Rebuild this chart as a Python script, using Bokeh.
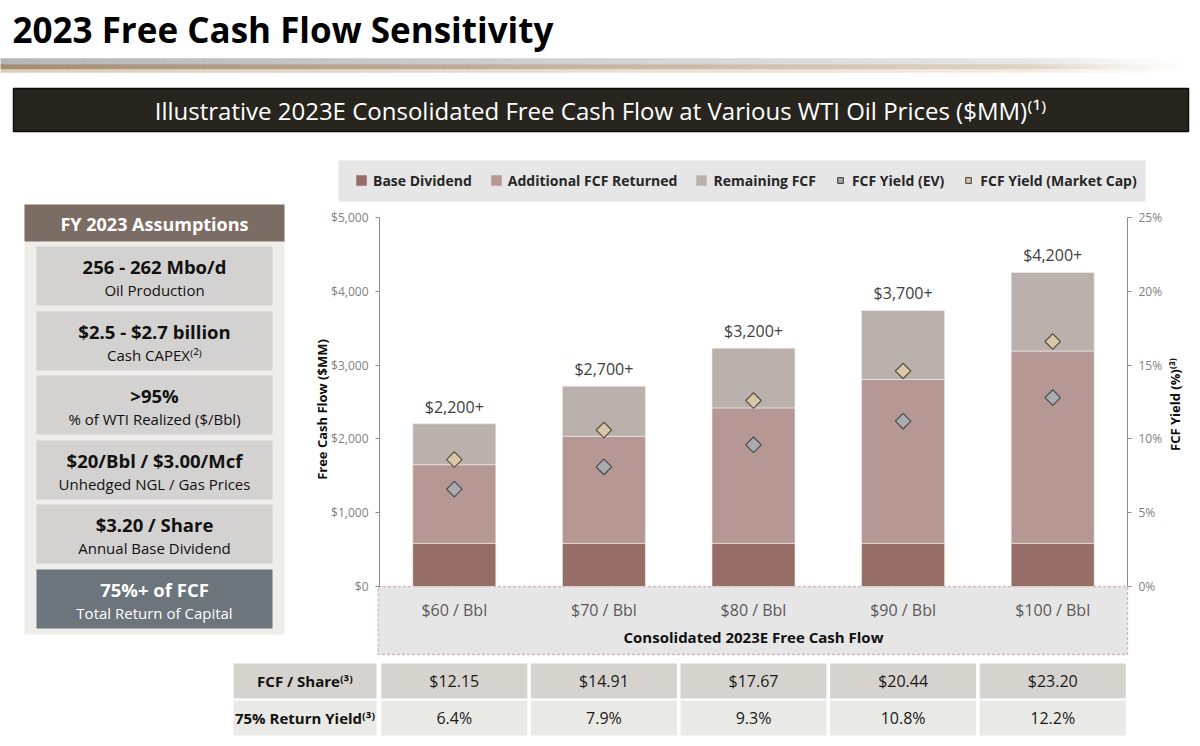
import math
import numpy as np
from bokeh.plotting import figure
from bokeh.models import (Range1d, LinearAxis, FixedTicker, NumeralTickFormatter,
                          PrintfTickFormatter, BoxAnnotation, Label, Legend, LegendItem,
                          ColumnDataSource)
from bokeh.embed import file_html
from bokeh.resources import INLINE
from bokeh.core.properties import value

FONT = "Open Sans"

# ---------------- data ----------------
categories = ["$60 / Bbl", "$70 / Bbl", "$80 / Bbl", "$90 / Bbl", "$100 / Bbl"]
base_dividend = [585, 585, 585, 585, 585]
additional_fcf = [1065, 1450, 1835, 2220, 2605]
remaining_fcf = [555, 680, 810, 935, 1065]
total_labels = ["$2,200+", "$2,700+", "$3,200+", "$3,700+", "$4,200+"]
yield_ev = [6.6, 8.1, 9.6, 11.2, 12.8]
yield_mkt = [8.6, 10.6, 12.6, 14.6, 16.6]
fcf_per_share = ["$12.15", "$14.91", "$17.67", "$20.44", "$23.20"]
return_yield = ["6.4%", "7.9%", "9.3%", "10.8%", "12.2%"]
table_headers = ["FCF / Share⁽³⁾", "75% Return Yield⁽³⁾"]
assumption_values = ["256 - 262 Mbo/d", "$2.5 - $2.7 billion", ">95%",
                     "$20/Bbl / $3.00/Mcf", "$3.20 / Share", "75%+ of FCF"]
assumption_labels = ["Oil Production", "Cash CAPEX⁽²⁾", "% of WTI Realized ($/Bbl)",
                     "Unhedged NGL / Gas Prices", "Annual Base Dividend", "Total Return of Capital"]

# ---------------- colours ----------------
C_BASE = "#976d67"
C_ADD = "#b59793"
C_REM = "#bab1ac"
C_EV = "#a9abb0"
C_MKT = "#d9c7aa"

# ---------------- page geometry (pixels) ----------------
W, H = 1199, 745
AX_L, AX_R = 379.0, 1127.0          # chart frame left / right
Y0_PX, YTOP_PX = 586.0, 217.0        # $0 and $5,000 / 0% and 25%
COL = (AX_R - AX_L) / len(categories)
FCF_MAX, YLD_MAX = 5000.0, 25.0


def X(px):
    return (px - AX_L) / COL


def Y(py):
    return (Y0_PX - py) * FCF_MAX / (Y0_PX - YTOP_PX)


def YY(py):
    return (Y0_PX - py) * YLD_MAX / (Y0_PX - YTOP_PX)


def lerp(c0, c1, t):
    return tuple(a + (b - a) * t for a, b in zip(c0, c1))


def hexc(c):
    return "#%02x%02x%02x" % tuple(int(round(v)) for v in c)


p = figure(width=W, height=H, x_range=Range1d(X(0), X(W)), y_range=Range1d(Y(H), Y(0)),
           x_axis_type=None, y_axis_type=None, toolbar_location=None, output_backend="svg",
           min_border=0, outline_line_color=None,
           background_fill_color="white", border_fill_color="white")
p.extra_y_ranges = {"yield": Range1d(YY(H), YY(0))}

# ---------------- title, rule, banner ----------------
p.text(x=[X(12)], y=[Y(29)], text=["2023 Free Cash Flow Sensitivity"], text_font=value(FONT),
       text_font_style="bold", text_font_size="35px", text_color="#000000",
       text_baseline="middle", text_align="left")

nseg = 120
gx = np.linspace(0, W, nseg + 1)
tt = ((gx[:-1] + gx[1:]) / 2) / W
fade = np.clip((tt - 0.86) / 0.13, 0, 1)
white = (255, 255, 255)
strips = [(58, 64, (182, 182, 182), (238, 238, 238)),
          (64, 69, (164, 140, 114), (234, 222, 208)),
          (69, 72, (218, 205, 188), (246, 240, 233))]
for top_px, bot_px, c0, c1 in strips:
    cols = [hexc(lerp(lerp(c0, c1, ti), white, fi)) for ti, fi in zip(tt, fade)]
    p.quad(left=X(gx[:-1]), right=X(gx[1:]), top=Y(top_px), bottom=Y(bot_px),
           fill_color=cols, line_color=cols, line_width=0.5)

p.quad(left=X(13), right=X(1188), top=Y(88), bottom=Y(131), fill_color="#28251f",
       line_color="#0d0d0d", line_width=1.5)
p.text(x=[X(600)], y=[Y(110)],
       text=["Illustrative 2023E Consolidated Free Cash Flow at Various WTI Oil Prices ($MM)⁽¹⁾"],
       text_font=value(FONT), text_font_size="24px", text_color="#ffffff",
       text_align="center", text_baseline="middle")

# ---------------- left assumptions panel ----------------
p.quad(left=X(24), right=X(284), top=Y(204), bottom=Y(634), fill_color="#eeede9", line_color=None)
p.quad(left=X(24), right=X(284), top=Y(204), bottom=Y(241), fill_color="#7c6d64", line_color=None)
p.text(x=[X(154)], y=[Y(223)], text=["FY 2023 Assumptions"], text_font=value(FONT),
       text_font_style="bold", text_font_size="18px", text_color="#ffffff",
       text_align="center", text_baseline="middle")
box_tops = np.array([246, 311, 375, 440, 504, 569], dtype=float)
box_fill = ["#d3d2d0"] * 5 + ["#6c747c"]
box_text = ["#111111"] * 5 + ["#ffffff"]
p.quad(left=X(36), right=X(272), top=Y(box_tops), bottom=Y(box_tops + 59), fill_color=box_fill,
       line_color=None)
p.text(x=[X(154)] * 6, y=Y(box_tops + 20), text=assumption_values, text_font=value(FONT),
       text_font_style="bold", text_font_size="18.5px", text_color=box_text,
       text_align="center", text_baseline="middle")
p.text(x=[X(154)] * 6, y=Y(box_tops + 43), text=assumption_labels, text_font=value(FONT),
       text_font_size="15px", text_color=box_text, text_align="center", text_baseline="middle")

# ---------------- chart ----------------
xpos = [i + 0.5 for i in range(len(categories))]
totals = [b + a + r for b, a, r in zip(base_dividend, additional_fcf, remaining_fcf)]
src = ColumnDataSource(dict(x=xpos, cat=categories, base=base_dividend, add=additional_fcf,
                            rem=remaining_fcf, total=totals, lab=total_labels,
                            yev=yield_ev, ymkt=yield_mkt))

# legend background band and category band
p.add_layout(BoxAnnotation(left=X(338), right=X(1145), top=Y(160), bottom=Y(201),
                           fill_color="#e6e6e6", fill_alpha=1.0, line_color=None, level="underlay"))
gray_box = BoxAnnotation(left=X(377.5), right=len(categories), top=0, bottom=Y(654),
                         fill_color="#e7e6e6", fill_alpha=1.0, line_color="#9a3442",
                         line_dash="3 2", line_width=1.4, level="underlay")
p.add_layout(gray_box)

bars = p.vbar_stack(["base", "add", "rem"], x="x", width=0.555, source=src,
                    fill_color=[C_BASE, C_ADD, C_REM], line_color="#f2eeec", line_width=0.6)
r_ev = p.scatter(x="x", y="yev", source=src, marker="square", angle=math.pi / 4, size=11,
                 fill_color=C_EV, line_color="#4a4a4a", line_width=1.2, y_range_name="yield")
r_mkt = p.scatter(x="x", y="ymkt", source=src, marker="square", angle=math.pi / 4, size=11,
                  fill_color=C_MKT, line_color="#5c5242", line_width=1.2, y_range_name="yield")

p.text(x="x", y="total", text="lab", source=src, y_offset=-17, text_font=value(FONT),
       text_font_size="16px", text_color="#404040", text_align="center", text_baseline="middle")

p.text(x="x", y=Y(609), text="cat", source=src, text_font=value(FONT),
       text_font_size="16px", text_color="#595959", text_align="center", text_baseline="middle")
p.text(x=[len(categories) / 2], y=[Y(636)], text=["Consolidated 2023E Free Cash Flow"],
       text_font=value(FONT), text_font_style="bold", text_font_size="15px", text_color="#111111",
       text_align="center", text_baseline="middle")

ax = LinearAxis(fixed_location=0, bounds=(0, FCF_MAX),
                ticker=FixedTicker(ticks=[0, 1000, 2000, 3000, 4000, 5000]),
                formatter=NumeralTickFormatter(format="$0,0"))
ax2 = LinearAxis(y_range_name="yield", fixed_location=len(categories), bounds=(0, YLD_MAX),
                 ticker=FixedTicker(ticks=[0, 5, 10, 15, 20, 25]),
                 formatter=PrintfTickFormatter(format="%d%%"))
for a in (ax, ax2):
    a.axis_line_color = "#8c8c8c"
    a.major_tick_line_color = "#8c8c8c"
    a.major_tick_out = 4
    a.major_tick_in = 0
    a.minor_tick_out = 0
    a.minor_tick_in = 0
    a.major_label_standoff = 7
    a.major_label_text_font = FONT
    a.major_label_text_font_size = "12px"
    a.major_label_text_color = "#7f7f7f"
p.add_layout(ax, "left")
p.add_layout(ax2, "right")

p.add_layout(Label(x=X(321), y=Y(409), text="Free Cash Flow ($MM)", angle=math.pi / 2,
                   text_align="center", text_baseline="middle", text_font=FONT,
                   text_font_style="bold", text_font_size="13px", text_color="#0d0d0d"))
p.add_layout(Label(x=X(1174), y=Y(404), text="FCF Yield (%)⁽³⁾", angle=math.pi / 2,
                   text_align="center", text_baseline="middle", text_font=FONT,
                   text_font_style="bold", text_font_size="13px", text_color="#0d0d0d"))

legend = Legend(items=[LegendItem(label="Base Dividend", renderers=[bars[0]]),
                       LegendItem(label="Additional FCF Returned", renderers=[bars[1]]),
                       LegendItem(label="Remaining FCF", renderers=[bars[2]]),
                       LegendItem(label="FCF Yield (EV)", renderers=[r_ev]),
                       LegendItem(label="FCF Yield (Market Cap)", renderers=[r_mkt])],
                orientation="horizontal", location=(354, H - 190),
                background_fill_alpha=0.0, border_line_color=None,
                label_text_font=FONT, label_text_font_style="bold", label_text_font_size="14px",
                label_text_color="#262626", glyph_width=14, glyph_height=14, label_standoff=5,
                spacing=17, padding=11, margin=0, label_height=20)
p.add_layout(legend, "center")

# ---------------- table ----------------
row_tops = np.array([663.0, 700.0])
row_fill = ["#d6d3cf", "#e9e9e5"]
idx = list(range(len(categories)))
hdr_l, hdr_r = X(233), X(376)
for rt, rf, hdr, vals in zip(row_tops, row_fill, table_headers, [fcf_per_share, return_yield]):
    p.quad(left=[hdr_l] + [i + 0.012 for i in idx], right=[hdr_r] + [i + 0.988 for i in idx],
           top=Y(rt), bottom=Y(rt + 35), fill_color=rf, line_color=None)
    p.text(x=[(hdr_l + hdr_r) / 2], y=[Y(rt + 17.5)], text=[hdr], text_font=value(FONT),
           text_font_style="bold", text_font_size="15px", text_color="#111111",
           text_align="center", text_baseline="middle")
    p.text(x=[i + 0.5 for i in idx], y=[Y(rt + 17.5)] * len(idx), text=vals, text_font=value(FONT),
           text_font_size="16px", text_color="#1a1a1a", text_align="center", text_baseline="middle")

open("out.html", "w").write(file_html(p, INLINE))
